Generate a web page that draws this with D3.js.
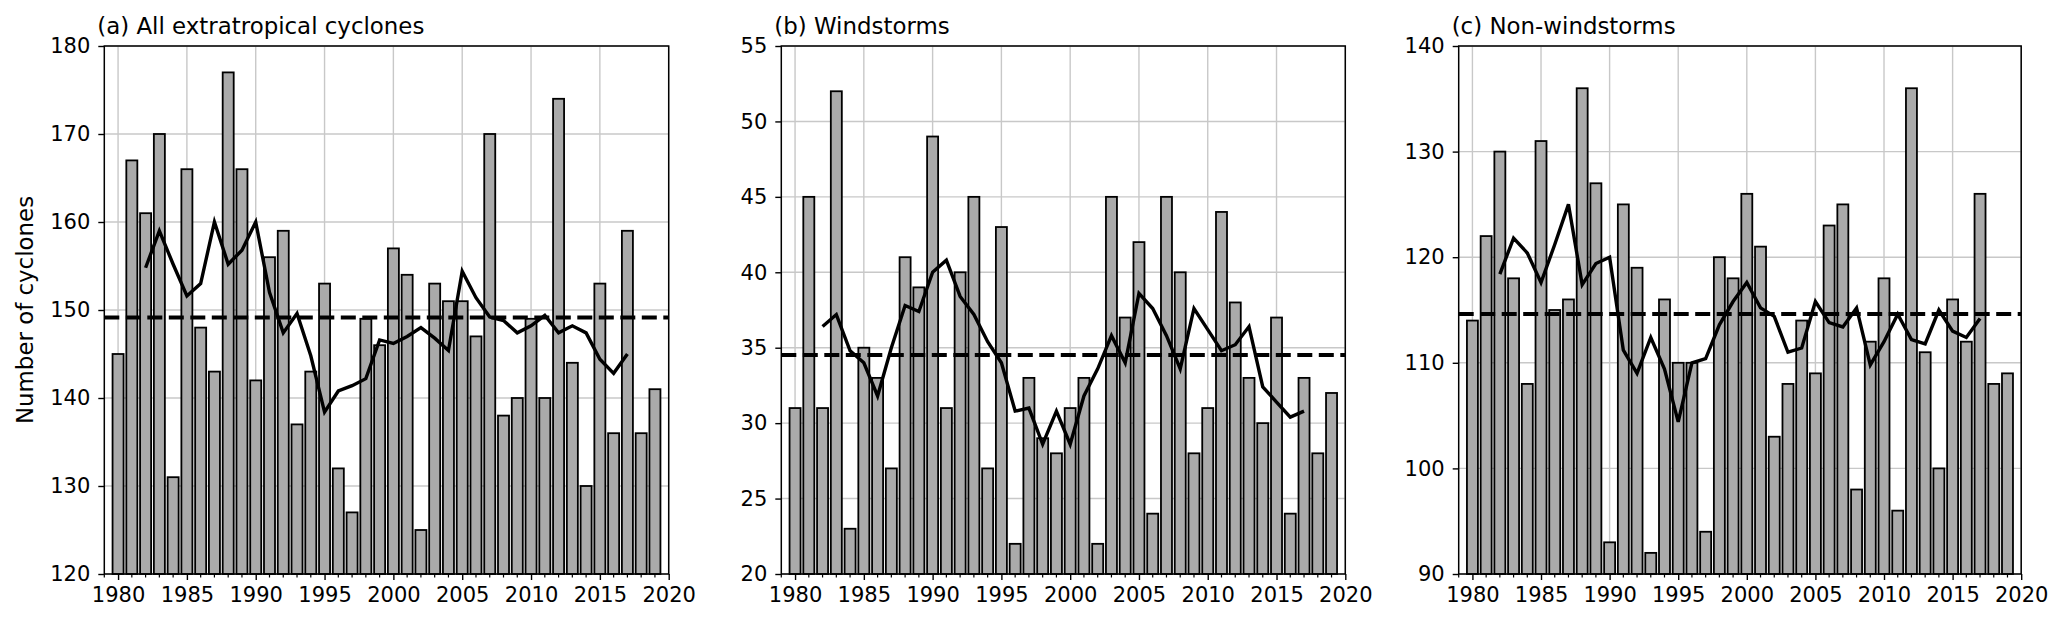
<!DOCTYPE html>
<html>
<head>
<meta charset="utf-8">
<script src="https://cdn.jsdelivr.net/npm/d3@7"></script>
<style>
  html, body { margin: 0; padding: 0; background: #fff; }
  svg { display: block; font-family: "DejaVu Sans", sans-serif; }
</style>
</head>
<body>
<svg id="chart" width="2067" height="623"></svg>
<script>
// ---------------- data ----------------
const years = d3.range(1980, 2020);

const allCyclones = [145,167,161,170,131,166,148,143,177,166,
                     142,156,159,137,143,153,132,127,149,146,
                     157,154,125,153,151,151,147,170,138,140,
                     149,140,174,144,130,153,136,159,136,141];

const windstorms = [31,45,31,52,23,35,33,27,41,39,
                    49,31,40,45,27,43,22,33,29,28,
                    31,33,22,45,37,42,24,45,40,28,
                    31,44,38,33,30,37,24,33,28,32];

const nonWindstorms = [114,122,130,118,108,131,115,116,136,127,
                       93,125,119,92,116,110,110,94,120,118,
                       126,121,103,108,114,109,123,125,98,112,
                       118,96,136,111,100,116,112,126,108,109];

// 5-year running means (years 1982-2017)
const runYears = d3.range(1982, 2018);
const allRun = [154.8,159.0,155.2,151.6,153.0,160.0,155.2,156.8,160.0,152.0,
                147.4,149.6,144.8,138.4,140.8,141.4,142.2,146.6,146.2,147.0,
                148.0,146.8,145.4,154.4,151.4,149.2,148.8,147.4,148.2,149.4,
                147.4,148.2,147.4,144.4,142.8,145.0];
const windRun = [36.4,37.2,34.8,34.0,31.8,35.0,37.8,37.4,40.0,40.8,
                 38.4,37.2,35.4,34.0,30.8,31.0,28.6,30.8,28.6,31.8,
                 33.6,35.8,34.0,38.6,37.6,35.8,33.6,37.6,36.2,34.8,
                 35.2,36.4,32.4,31.4,30.4,30.8];
const nonRun = [118.4,121.8,120.4,117.6,121.2,125.0,117.4,119.4,120.0,111.2,
                109.0,112.4,109.4,104.4,110.0,110.4,113.6,115.8,117.6,115.2,
                114.4,111.0,111.4,115.8,113.8,113.4,115.2,109.8,112.0,114.6,
                112.2,111.8,115.0,113.0,112.4,114.2];

// climatological means (dashed lines)
const allMean = 149.15;
const windMean = 34.525;
const nonMean = 114.625;

const titles = ["(a) All extratropical cyclones", "(b) Windstorms", "(c) Non-windstorms"];
const yDomains = [[120, 180], [20, 55], [90, 140]];
const yTickValues = [d3.range(120, 181, 10), d3.range(20, 56, 5), d3.range(90, 141, 10)];
const xTickValues = d3.range(1980, 2021, 5);
const xMinorTicks = d3.range(1979, 2021, 1);

// ---------------- layout ----------------
const svg = d3.select("#chart");
const plotTop = 46, plotBottom = 574;
const panelX = [[104.3, 668.7], [781.3, 1345.3], [1458.7, 2021.2]];
const fontSize = 21;
const labelSize = 22.9;

const panels = [
  {bars: allCyclones, run: allRun, mean: allMean},
  {bars: windstorms, run: windRun, mean: windMean},
  {bars: nonWindstorms, run: nonRun, mean: nonMean}
];

panels.forEach((p, i) => {
  const [left, right] = panelX[i];
  const x = d3.scaleLinear().domain([1979, 2020]).range([left, right]);
  const y = d3.scaleLinear().domain(yDomains[i]).range([plotBottom, plotTop]);
  const g = svg.append("g");

  // grid
  g.append("g").selectAll("line").data(xTickValues).join("line")
    .attr("x1", d => x(d)).attr("x2", d => x(d))
    .attr("y1", plotTop).attr("y2", plotBottom)
    .attr("stroke", "#c8c8c8").attr("stroke-width", 1.4);
  g.append("g").selectAll("line").data(yTickValues[i]).join("line")
    .attr("x1", left).attr("x2", right)
    .attr("y1", d => y(d)).attr("y2", d => y(d))
    .attr("stroke", "#c8c8c8").attr("stroke-width", 1.4);

  // bars
  const bw = 0.8;
  g.append("g").selectAll("rect").data(years).join("rect")
    .attr("x", (d) => x(d - bw / 2))
    .attr("width", x(1979 + bw) - x(1979))
    .attr("y", (d, j) => y(p.bars[j]))
    .attr("height", (d, j) => plotBottom - y(p.bars[j]))
    .attr("fill", "#aaaaaa")
    .attr("stroke", "#000").attr("stroke-width", 1.8);

  // dashed mean
  g.append("line")
    .attr("x1", left).attr("x2", right)
    .attr("y1", y(p.mean)).attr("y2", y(p.mean))
    .attr("stroke", "#000").attr("stroke-width", 4)
    .attr("stroke-dasharray", "15,6.5");

  // running mean
  const line = d3.line().x((d, j) => x(runYears[j])).y(d => y(d));
  g.append("path").datum(p.run)
    .attr("d", line)
    .attr("fill", "none").attr("stroke", "#000")
    .attr("stroke-width", 3.4).attr("stroke-linejoin", "miter");

  // x axis (major)
  const xAxis = d3.axisBottom(x).tickValues(xTickValues).tickFormat(d3.format("d"))
    .tickSize(6).tickPadding(7);
  const xg = g.append("g").attr("transform", `translate(0,${plotBottom})`).call(xAxis);
  xg.select(".domain").remove();
  xg.selectAll(".tick line").attr("stroke", "#000").attr("stroke-width", 1.4);
  xg.selectAll(".tick text").attr("font-size", fontSize).attr("fill", "#000")
    .attr("font-family", "DejaVu Sans");

  // x minor ticks
  g.append("g").selectAll("line").data(xMinorTicks.filter(d => d % 5 !== 0)).join("line")
    .attr("x1", d => x(d)).attr("x2", d => x(d))
    .attr("y1", plotBottom).attr("y2", plotBottom + 3.5)
    .attr("stroke", "#000").attr("stroke-width", 1.2);

  // y axis
  const yAxis = d3.axisLeft(y).tickValues(yTickValues[i]).tickFormat(d3.format("d"))
    .tickSize(6).tickPadding(8);
  const yg = g.append("g").attr("transform", `translate(${left},0)`).call(yAxis);
  yg.select(".domain").remove();
  yg.selectAll(".tick line").attr("stroke", "#000").attr("stroke-width", 1.4);
  yg.selectAll(".tick text").attr("font-size", fontSize).attr("fill", "#000")
    .attr("font-family", "DejaVu Sans");

  // frame
  g.append("rect").attr("x", left).attr("y", plotTop)
    .attr("width", right - left).attr("height", plotBottom - plotTop)
    .attr("fill", "none").attr("stroke", "#000").attr("stroke-width", 1.5);

  // title
  g.append("text").attr("x", left - 7).attr("y", 34)
    .attr("font-size", labelSize).attr("fill", "#000")
    .text(titles[i]);
});

// y label
svg.append("text")
  .attr("transform", "translate(33,310) rotate(-90)")
  .attr("text-anchor", "middle")
  .attr("font-size", labelSize).attr("fill", "#000")
  .text("Number of cyclones");
</script>
</body>
</html>
